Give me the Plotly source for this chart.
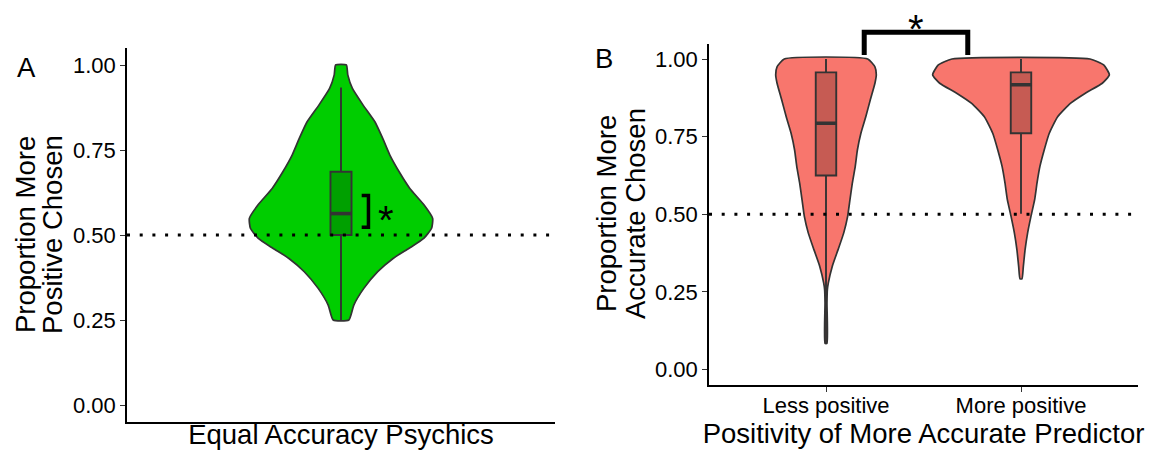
import plotly.graph_objects as go

W, H = 1163, 451
FONT = "Liberation Sans, Arial, sans-serif"

# ---------------- data ----------------
y_ticks = [0.0, 0.25, 0.5, 0.75, 1.0]
y_ticktext = ["0.00", "0.25", "0.50", "0.75", "1.00"]
chance_level = 0.5

# Panel A: equal accuracy psychics (violin profile: level -> half width in x units)
a_categories = ["Equal Accuracy Psychics"]
a_levels = [1.000, 0.971, 0.931, 0.882, 0.833, 0.784, 0.735, 0.686, 0.637, 0.588,
            0.549, 0.520, 0.490, 0.461, 0.431, 0.392, 0.343, 0.294, 0.250]
a_halfwidth = [0.015, 0.019, 0.032, 0.062, 0.095, 0.117, 0.137, 0.163, 0.193, 0.233,
               0.257, 0.254, 0.232, 0.191, 0.146, 0.103, 0.064, 0.036, 0.022]
a_q1 = [0.500]
a_median = [0.563]
a_q3 = [0.686]
a_lower = [0.250]
a_upper = [0.934]

# Panel B: positivity of more accurate predictor
b_categories = ["Less positive", "More positive"]
b_less_levels = [1.000, 0.975, 0.949, 0.922, 0.868, 0.814, 0.761, 0.707, 0.654, 0.600,
                 0.547, 0.493, 0.440, 0.386, 0.332, 0.279, 0.257, 0.214, 0.084]
b_less_halfwidth = [0.214, 0.251, 0.258, 0.251, 0.227, 0.204, 0.179, 0.161, 0.150, 0.135,
                    0.123, 0.111, 0.091, 0.062, 0.032, 0.012, 0.007, 0.005, 0.005]
b_more_levels = [1.000, 0.981, 0.949, 0.922, 0.890, 0.857, 0.814, 0.761, 0.707, 0.654,
                 0.600, 0.547, 0.493, 0.440, 0.386, 0.332, 0.292]
b_more_halfwidth = [0.354, 0.424, 0.453, 0.417, 0.330, 0.253, 0.188, 0.145, 0.119, 0.097,
                    0.082, 0.070, 0.051, 0.034, 0.021, 0.012, 0.005]
b_q1 = [0.625, 0.761]
b_median = [0.793, 0.917]
b_q3 = [0.957, 0.957]
b_lower = [0.084, 0.502]
b_upper = [1.000, 1.000]

# significance annotations
a_bracket_x = [1.058, 1.077]
a_bracket_y = [0.523, 0.616]
a_star_xy = [1.125, 0.569]
b_bracket_x = [1.196, 1.727]
b_bracket_y = [1.013, 1.086]
b_star_xy = [1.46, 1.122]

# ---------------- styling ----------------
GREEN = "#00CD00"
GREEN_BOX = "#00A000"
RED = "#F8766D"
RED_BOX = "#C65B53"
OUTLINE = "#333333"
Y_RANGE = [-0.05, 1.05]
A_XRANGE = [0.4, 1.6]
B_XRANGE = [0.4, 2.6]
A_BOXW = 0.059
B_BOXW = 0.105


def px_x(p):
    return p / W


def px_y(p):
    return 1 - p / H


def ydom(v):
    return (v - Y_RANGE[0]) / (Y_RANGE[1] - Y_RANGE[0])


def violin_outline(center, levels, hw):
    xs = [center + w for w in hw] + [center - w for w in reversed(hw)] + [center + hw[0]]
    ys = list(levels) + list(reversed(levels)) + [levels[0]]
    return xs, ys


fig = go.Figure()


def add_violin(center, levels, hw, fill, xa, ya):
    xs, ys = violin_outline(center, levels, hw)
    fig.add_trace(go.Scatter(
        x=xs, y=ys, mode="lines", fill="toself", fillcolor=fill,
        line=dict(color=OUTLINE, width=1.7, shape="spline", smoothing=0.5),
        xaxis=xa, yaxis=ya, hoverinfo="skip", showlegend=False))


def add_box(pos, q1, med, q3, lo, hi, width, fill, xa, ya):
    fig.add_trace(go.Box(
        x=pos, q1=q1, median=med, q3=q3, lowerfence=lo, upperfence=hi,
        orientation="v", width=width, fillcolor=fill,
        line=dict(color=OUTLINE, width=1.9),
        whiskerwidth=0, boxpoints=False, xaxis=xa, yaxis=ya,
        hoverinfo="skip", showlegend=False))
    mx, my = [], []
    for p, m in zip(pos, med):
        mx += [p - width / 2, p + width / 2, None]
        my += [m, m, None]
    fig.add_trace(go.Scatter(
        x=mx, y=my, mode="lines", line=dict(color=OUTLINE, width=3.6),
        xaxis=xa, yaxis=ya, hoverinfo="skip", showlegend=False))


# Panel A (violin on x/y, box on overlay axes x3/y3 so it is drawn above the violin)
a_pos = [1]
add_violin(a_pos[0], a_levels, a_halfwidth, GREEN, "x", "y")
add_box(a_pos, a_q1, a_median, a_q3, a_lower, a_upper, A_BOXW, GREEN_BOX, "x3", "y3")

# Panel B (violins on x2/y2, boxes on overlay axes x4/y4)
b_pos = [1, 2]
add_violin(b_pos[0], b_less_levels, b_less_halfwidth, RED, "x2", "y2")
add_violin(b_pos[1], b_more_levels, b_more_halfwidth, RED, "x2", "y2")
add_box(b_pos, b_q1, b_median, b_q3, b_lower, b_upper, B_BOXW, RED_BOX, "x4", "y4")

# ---------------- axes ----------------
axis_common = dict(showline=True, linecolor="black", linewidth=1.6, showgrid=False,
                   zeroline=False, ticks="outside", ticklen=5, tickwidth=1.3,
                   tickcolor=OUTLINE, tickfont=dict(family=FONT, size=22, color="black"))
hidden = dict(visible=False, showgrid=False, zeroline=False)

a_dom_x = [px_x(127), px_x(555)]
a_dom_y = [px_y(422), px_y(48)]
b_dom_x = [px_x(709), px_x(1138)]
b_dom_y = [px_y(385), px_y(43.5)]

fig.update_layout(
    width=W, height=H, margin=dict(l=0, r=0, t=0, b=0),
    plot_bgcolor="white", paper_bgcolor="white", showlegend=False,
    font=dict(family=FONT, color="black"),
    xaxis=dict(domain=a_dom_x, range=A_XRANGE, type="linear", anchor="y",
               showline=True, linecolor="black", linewidth=1.6, showgrid=False,
               zeroline=False, ticks="", showticklabels=False,
               title=dict(text=a_categories[0], font=dict(family=FONT, size=27.5), standoff=2)),
    yaxis=dict(domain=a_dom_y, range=Y_RANGE, anchor="x", tickvals=y_ticks,
               ticktext=y_ticktext, **axis_common),
    xaxis2=dict(domain=b_dom_x, range=B_XRANGE, type="linear", anchor="y2",
                tickvals=b_pos, ticktext=b_categories, ticklabelstandoff=-5,
                title=dict(text="Positivity of More Accurate Predictor",
                           font=dict(family=FONT, size=27.5), standoff=0),
                **axis_common),
    yaxis2=dict(domain=b_dom_y, range=Y_RANGE, anchor="x2", tickvals=y_ticks,
                ticktext=y_ticktext, **axis_common),
    xaxis3=dict(overlaying="x", range=A_XRANGE, type="linear", anchor="y3", **hidden),
    yaxis3=dict(overlaying="y", range=Y_RANGE, anchor="x3", **hidden),
    xaxis4=dict(overlaying="x2", range=B_XRANGE, type="linear", anchor="y4", **hidden),
    yaxis4=dict(overlaying="y2", range=Y_RANGE, anchor="x4", **hidden),
)

# dotted chance lines
DOT = "3px,9.7px"
for xr, yr in (("x domain", "y"), ("x2 domain", "y2")):
    fig.add_shape(type="line", xref=xr, yref=yr, x0=0, x1=1, y0=chance_level, y1=chance_level,
                  line=dict(color="black", width=3, dash=DOT), layer="above")

# bracket A
fig.add_shape(type="path", xref="x", yref="y",
              path=(f"M {a_bracket_x[0]},{a_bracket_y[1]} L {a_bracket_x[1]},{a_bracket_y[1]} "
                    f"L {a_bracket_x[1]},{a_bracket_y[0]} L {a_bracket_x[0]},{a_bracket_y[0]}"),
              line=dict(color="black", width=3.5), layer="above")

# bracket B (extends above the panel, so y is given as a fraction of the y2 domain)
fig.add_shape(type="path", xref="x2", yref="y2 domain",
              path=(f"M {b_bracket_x[0]},{ydom(b_bracket_y[0])} L {b_bracket_x[0]},{ydom(b_bracket_y[1])} "
                    f"L {b_bracket_x[1]},{ydom(b_bracket_y[1])} L {b_bracket_x[1]},{ydom(b_bracket_y[0])}"),
              line=dict(color="black", width=5), layer="above")

# asterisks
STAR_FONT = dict(family=FONT, size=40, color="black")
fig.add_annotation(x=a_star_xy[0], y=a_star_xy[1], xref="x", yref="y", text="*",
                   showarrow=False, font=STAR_FONT,
                   xanchor="center", yanchor="middle", yshift=-8)
fig.add_annotation(x=b_star_xy[0], y=ydom(b_star_xy[1]), xref="x2", yref="y2 domain", text="*",
                   showarrow=False, font=STAR_FONT,
                   xanchor="center", yanchor="middle", yshift=-8)

# y-axis titles (two lines each) and panel letters
TITLE_FONT = dict(family=FONT, size=27.5, color="black")
for txt, xpx, ypx in (("Proportion More", 25, 235), ("Positive Chosen", 52, 235),
                      ("Proportion More", 606, 214), ("Accurate Chosen", 635, 214)):
    fig.add_annotation(x=px_x(xpx), y=px_y(ypx), xref="paper", yref="paper", text=txt,
                       textangle=-90, showarrow=False, font=TITLE_FONT,
                       xanchor="center", yanchor="middle")

for txt, xpx, ypx in (("A", 26, 68), ("B", 604, 58)):
    fig.add_annotation(x=px_x(xpx), y=px_y(ypx), xref="paper", yref="paper", text=txt,
                       showarrow=False, font=TITLE_FONT, xanchor="center", yanchor="middle")

fig.write_html("out.html", config={"displayModeBar": False},
               post_script="document.body.style.margin='0';")
